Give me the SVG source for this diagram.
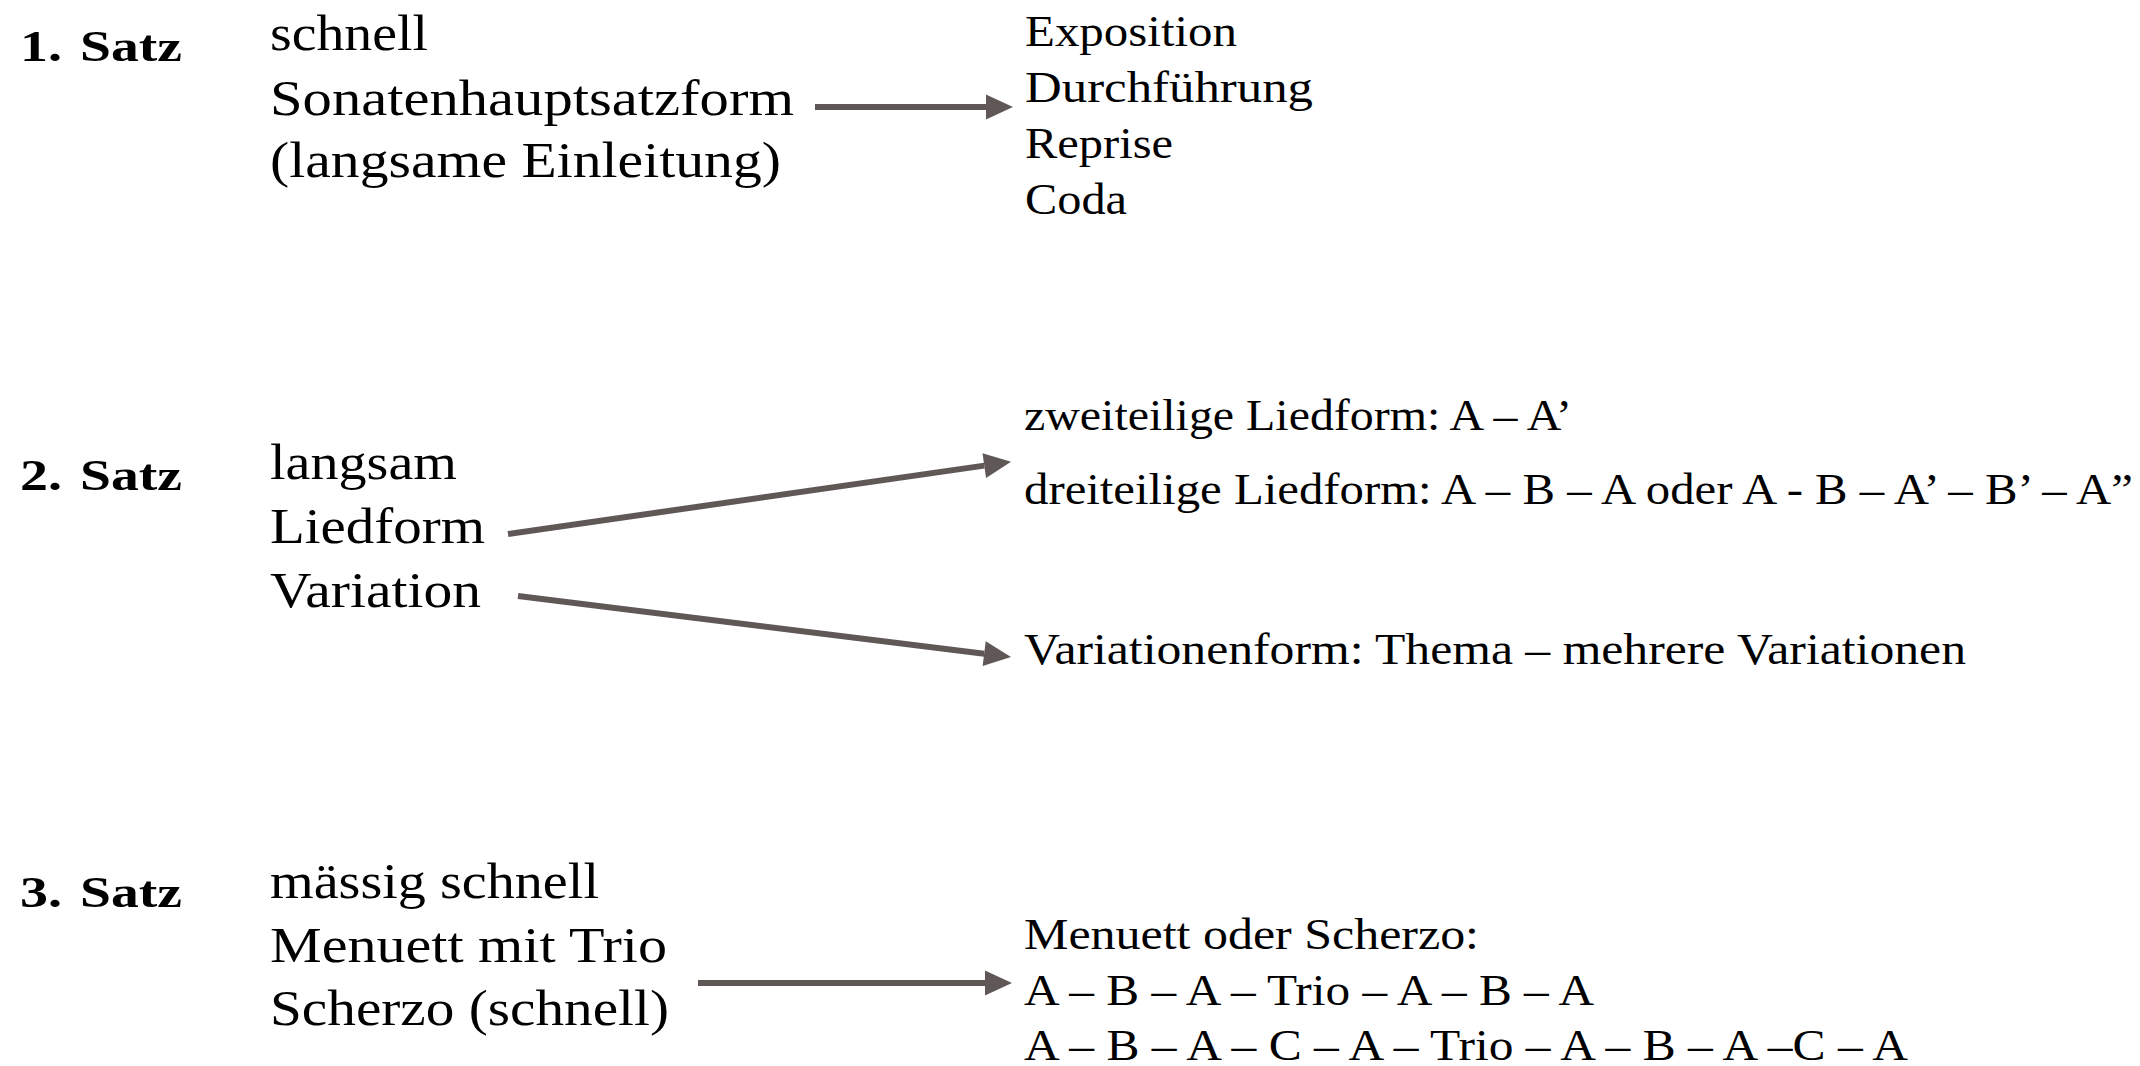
<svg xmlns="http://www.w3.org/2000/svg" width="2140" height="1066" viewBox="0 0 2140 1066">
<defs>
<style>
text{font-family:"Liberation Serif","Times New Roman",serif;fill:#000}
.h{font-size:45px;font-weight:bold}
.l{font-size:50px}
.r{font-size:44px}
.c{stroke:#605857;stroke-width:6;fill:none;marker-end:url(#ah)}
</style>
<marker id="ah" markerUnits="userSpaceOnUse" markerWidth="27" markerHeight="25" refX="0" refY="12.5" orient="auto" overflow="visible">
<path d="M0,0 L27,12.5 L0,25 z" fill="#605857"/>
</marker>
</defs>
<rect width="2140" height="1066" fill="#fff"/>
<g id="satz1">
<text class="h" x="20" y="61" textLength="42" lengthAdjust="spacingAndGlyphs">1.</text>
<text class="h" x="80" y="61" textLength="102" lengthAdjust="spacingAndGlyphs">Satz</text>
</g>
<g id="satz1-desc">
<text class="l" x="270" y="50" textLength="158" lengthAdjust="spacingAndGlyphs">schnell</text>
<text class="l" x="270" y="115" textLength="524" lengthAdjust="spacingAndGlyphs">Sonatenhauptsatzform</text>
<text class="l" x="270" y="177" textLength="511" lengthAdjust="spacingAndGlyphs">(langsame Einleitung)</text>
</g>
<g id="satz1-form">
<text class="r" x="1025" y="46" textLength="212" lengthAdjust="spacingAndGlyphs">Exposition</text>
<text class="r" x="1025" y="102" textLength="288" lengthAdjust="spacingAndGlyphs">Durchführung</text>
<text class="r" x="1025" y="158" textLength="148" lengthAdjust="spacingAndGlyphs">Reprise</text>
<text class="r" x="1025" y="214" textLength="102" lengthAdjust="spacingAndGlyphs">Coda</text>
</g>
<g id="satz2">
<text class="h" x="20" y="490" textLength="42" lengthAdjust="spacingAndGlyphs">2.</text>
<text class="h" x="80" y="490" textLength="102" lengthAdjust="spacingAndGlyphs">Satz</text>
</g>
<g id="satz2-desc">
<text class="l" x="270" y="479" textLength="187" lengthAdjust="spacingAndGlyphs">langsam</text>
<text class="l" x="270" y="543" textLength="215" lengthAdjust="spacingAndGlyphs">Liedform</text>
<text class="l" x="270" y="607" textLength="211" lengthAdjust="spacingAndGlyphs">Variation</text>
</g>
<g id="satz2-lied">
<text class="r" x="1024" y="430" textLength="548" lengthAdjust="spacingAndGlyphs">zweiteilige Liedform: A – A’</text>
<text class="r" x="1024" y="504" textLength="1109" lengthAdjust="spacingAndGlyphs">dreiteilige Liedform: A – B – A oder A - B – A’ – B’ – A”</text>
</g>
<g id="satz2-var">
<text class="r" x="1024" y="664" textLength="942" lengthAdjust="spacingAndGlyphs">Variationenform: Thema – mehrere Variationen</text>
</g>
<g id="satz3">
<text class="h" x="20" y="907" textLength="42" lengthAdjust="spacingAndGlyphs">3.</text>
<text class="h" x="80" y="907" textLength="102" lengthAdjust="spacingAndGlyphs">Satz</text>
</g>
<g id="satz3-desc">
<text class="l" x="270" y="898" textLength="329" lengthAdjust="spacingAndGlyphs">mässig schnell</text>
<text class="l" x="270" y="962" textLength="397" lengthAdjust="spacingAndGlyphs">Menuett mit Trio</text>
<text class="l" x="270" y="1025" textLength="399" lengthAdjust="spacingAndGlyphs">Scherzo (schnell)</text>
</g>
<g id="satz3-form">
<text class="r" x="1024" y="949" textLength="455" lengthAdjust="spacingAndGlyphs">Menuett oder Scherzo:</text>
<text class="r" x="1024" y="1005" textLength="570" lengthAdjust="spacingAndGlyphs">A – B – A – Trio – A – B – A</text>
<text class="r" x="1024" y="1060" textLength="884" lengthAdjust="spacingAndGlyphs">A – B – A – C – A – Trio – A – B – A –C – A</text>
</g>
<g id="connectors">
<line class="c" x1="815" y1="107" x2="986" y2="107"/>
<line class="c" x1="508" y1="534" x2="984.3" y2="465.6"/>
<line class="c" x1="518" y1="596" x2="984.2" y2="653.7"/>
<line class="c" x1="698" y1="983" x2="985" y2="983"/>
</g>
</svg>
